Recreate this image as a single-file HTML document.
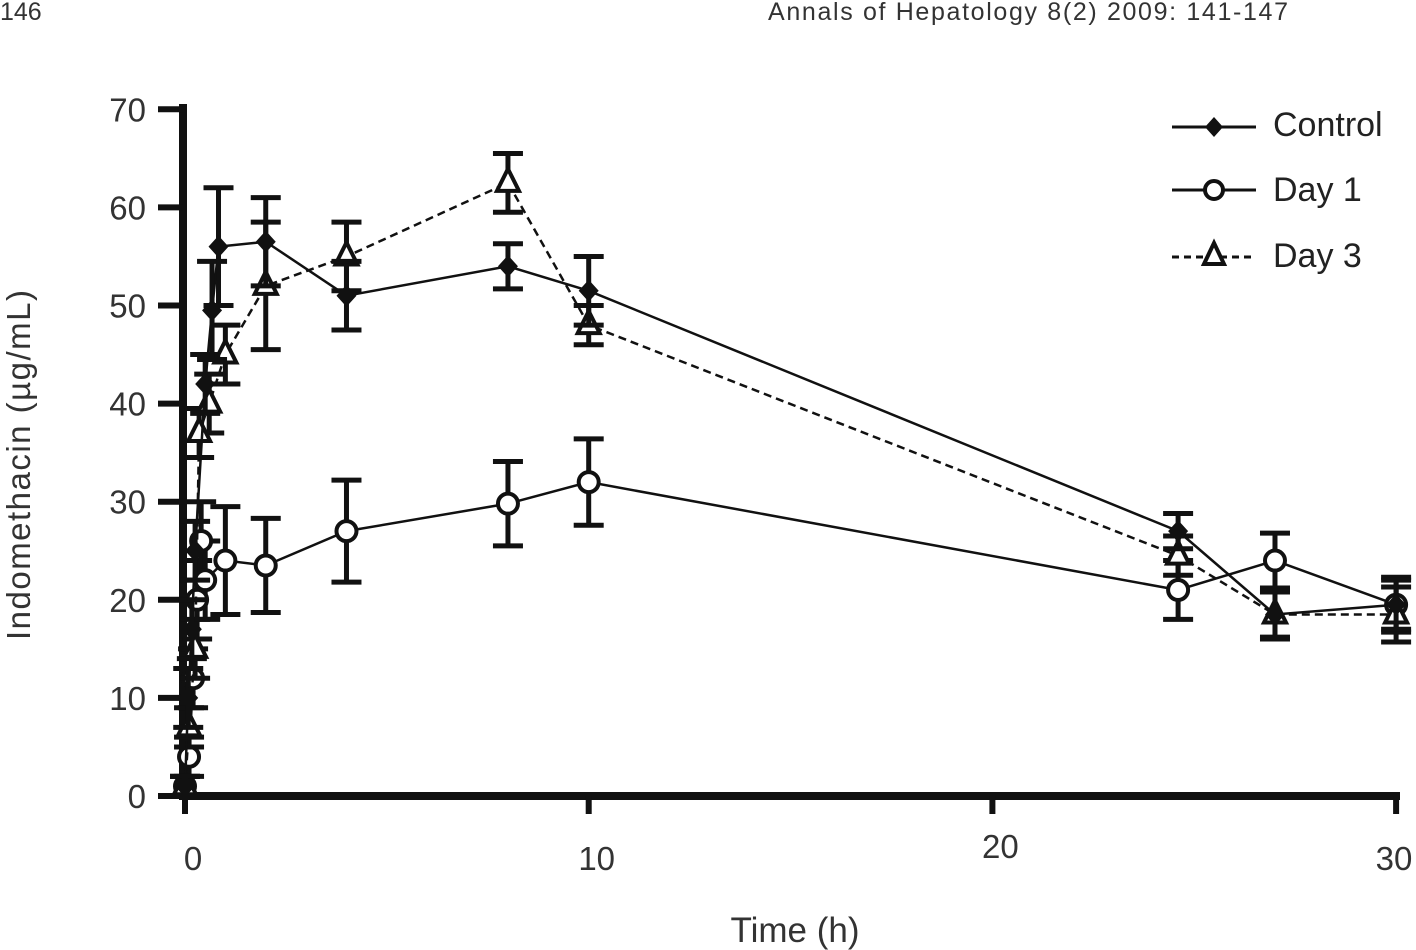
<!DOCTYPE html>
<html><head><meta charset="utf-8"><style>
body{margin:0;background:#fff;}
svg{display:block;font-family:"Liberation Sans",sans-serif;}
</style></head><body>
<svg id="c" width="1416" height="950">
<text x="0" y="20" font-size="25" fill="#333">146</text>
<text x="1288" y="20" font-size="25" fill="#333" text-anchor="end" textLength="520">Annals of Hepatology 8(2) 2009: 141-147</text>
<g id="axes"></g>
<g id="series"></g>
<text x="795" y="942" font-size="35" fill="#333" text-anchor="middle">Time (h)</text>
<text transform="translate(30,465) rotate(-90)" font-size="33" fill="#333" text-anchor="middle" textLength="350">Indomethacin  (µg/mL)</text>
<g>
<line x1="1172" y1="127" x2="1256" y2="127" stroke="#111" stroke-width="3"/>
<path d="M1214 117 L1223 127 L1214 137 L1205 127Z" fill="#111"/>
<text x="1273" y="136" font-size="34" fill="#222">Control</text>
<line x1="1172" y1="190" x2="1256" y2="190" stroke="#111" stroke-width="3"/>
<circle cx="1214" cy="190" r="9" fill="#fff" stroke="#111" stroke-width="4"/>
<text x="1273" y="201" font-size="34" fill="#222">Day 1</text>
<line x1="1172" y1="257" x2="1256" y2="257" stroke="#111" stroke-width="3" stroke-dasharray="7,5"/>
<path d="M1214 243 L1224 264 L1204 264Z" fill="#fff" stroke="#111" stroke-width="4"/>
<text x="1273" y="267" font-size="34" fill="#222">Day 3</text>
</g>
</svg>
<script>
const xTicks=[0,10,20,30];
const yTicks=[0,10,20,30,40,50,60,70];
const ctrlX=[0,0.08,0.17,0.25,0.5,0.67,0.83,2,4,8,10,24.6,27,30];
const ctrlY=[1,10,17,25,42,49.5,56,56.5,51,54,51.5,27,18.5,19.5];
const ctrlE=[1,3,3,3,3,5,6,4.5,3.5,2.3,3.5,1.8,2.5,2.5];
const d1X=[0,0.1,0.2,0.3,0.4,0.5,1,2,4,8,10,24.6,27,30];
const d1Y=[1,4,12,20,26,22,24,23.5,27,29.8,32,21,24,19.5];
const d1E=[1,2,3,4,4,4,5.5,4.8,5.2,4.3,4.4,3,2.8,2.8];
const d3X=[0,0.1,0.25,0.35,0.6,1,2,4,8,10,24.6,27,30];
const d3Y=[1,7,15,37,40,45,52,55,62.5,48,24.5,18.5,18.5];
const d3E=[1,2,3,2.5,3,3,6.5,3.5,3,2,2,2.3,2.8];
const NS='http://www.w3.org/2000/svg';
const X=v=>185+v*40.37, Y=v=>796-v*9.81;
function mk(t,a,p){const e=document.createElementNS(NS,t);for(const k in a)e.setAttribute(k,a[k]);p.appendChild(e);return e;}
const ax=document.getElementById('axes');
let l=mk('line',{x1:183,y1:104,x2:183,y2:800,stroke:'#111','stroke-width':8},ax);


l=mk('line',{x1:179,y1:796,x2:1400,y2:796,stroke:'#111','stroke-width':8},ax);


yTicks.forEach(v=>{mk('line',{x1:158,y1:Y(v),x2:183,y2:Y(v),stroke:'#111','stroke-width':6},ax);
const t=mk('text',{x:146,y:Y(v)+12,'font-size':33,fill:'#333','text-anchor':'end'},ax);t.textContent=v;

});
xTicks.forEach(v=>{mk('line',{x1:X(v),y1:796,x2:X(v),y2:814,stroke:'#111','stroke-width':6},ax);
const t=mk('text',{x:Math.min(X(v)+8,1394),y:v==20?858:870,'font-size':33,fill:'#333','text-anchor':'middle'},ax);t.textContent=v;

});
const sg=document.getElementById('series');
function series(xs,ys,es,name,dash,marker){
const g=mk('g',{},sg);


mk('polyline',{points:xs.map((x,i)=>X(x)+','+Y(ys[i])).join(' '),fill:'none',stroke:'#111','stroke-width':2.5,'stroke-dasharray':dash},g);
xs.forEach((x,i)=>{const cx=X(x),y1=Y(ys[i]+es[i]),y2=Y(ys[i]-es[i]);
mk('line',{x1:cx,y1:y1,x2:cx,y2:y2,stroke:'#111','stroke-width':5},g);
mk('line',{x1:cx-15,y1:y1,x2:cx+15,y2:y1,stroke:'#111','stroke-width':5},g);
mk('line',{x1:cx-15,y1:y2,x2:cx+15,y2:y2,stroke:'#111','stroke-width':5},g);});
xs.forEach((x,i)=>{const cx=X(x),cy=Y(ys[i]);let m;
if(marker=='d')m=mk('path',{d:`M${cx} ${cy-11}L${cx+10} ${cy}L${cx} ${cy+11}L${cx-10} ${cy}Z`,fill:'#111'},g);
else if(marker=='c')m=mk('circle',{cx:cx,cy:cy,r:10,fill:'#fff',stroke:'#111','stroke-width':4},g);
else m=mk('path',{d:`M${cx} ${cy-14}L${cx+11} ${cy+8}L${cx-11} ${cy+8}Z`,fill:'#fff',stroke:'#111','stroke-width':4},g);

});
}
series(d1X,d1Y,d1E,'day1-series','','c');
series(d3X,d3Y,d3E,'day3-series','8,5','t');
series(ctrlX,ctrlY,ctrlE,'control-series','','d');
</script>
</body></html>
